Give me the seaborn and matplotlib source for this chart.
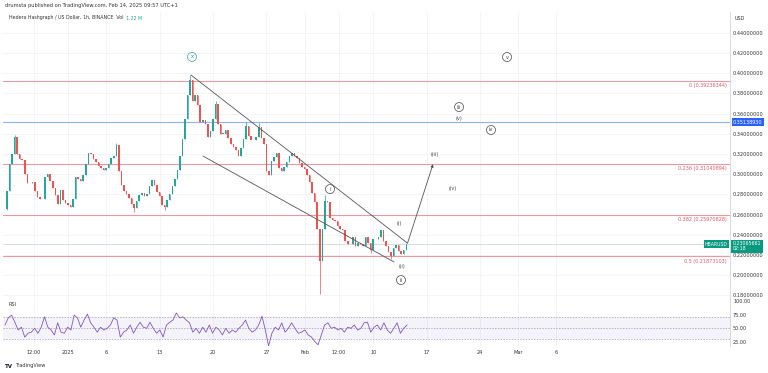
import numpy as np
import pandas as pd
import seaborn as sns
import matplotlib.pyplot as plt

first_day = -8.0
step = 1 / 3
first_open = 0.2652
closes = [
    0.2830, 0.3096, 0.3195, 0.3363, 0.3195, 0.3146, 0.3136, 0.2997, 0.2909, 0.2909,
    0.2919, 0.2830, 0.2770, 0.2751, 0.2751, 0.2968, 0.2997, 0.2928, 0.2859, 0.2790,
    0.2701, 0.2840, 0.2741, 0.2711, 0.2691, 0.2672, 0.2751, 0.2968, 0.2948, 0.2928,
    0.2988, 0.3096, 0.3205, 0.3195, 0.3146, 0.3116, 0.3077, 0.3057, 0.3037, 0.3057,
    0.3096, 0.3156, 0.3176, 0.3284, 0.3027, 0.2889, 0.2830, 0.2800, 0.2760, 0.2701,
    0.2662, 0.2731, 0.2790, 0.2810, 0.2780, 0.2800, 0.2879, 0.2938, 0.2889, 0.2820,
    0.2780, 0.2691, 0.2672, 0.2741, 0.2800, 0.2879, 0.2948, 0.3037, 0.3176, 0.3343,
    0.3541, 0.3788, 0.3936, 0.3728, 0.3788, 0.3689, 0.3511, 0.3531, 0.3501, 0.3363,
    0.3422, 0.3541, 0.3699, 0.3501, 0.3402, 0.3402, 0.3432, 0.3353, 0.3294, 0.3264,
    0.3235, 0.3175, 0.3254, 0.3343, 0.3481, 0.3373, 0.3333, 0.3333, 0.3363, 0.3462,
    0.3353, 0.3294, 0.3027, 0.2988, 0.3126, 0.3165, 0.3205, 0.3057, 0.3027, 0.3067,
    0.3116, 0.3175, 0.3205, 0.3175, 0.3156, 0.3106, 0.3067, 0.3047, 0.2988, 0.2919,
    0.2810, 0.2721, 0.2454, 0.2138, 0.2454, 0.2731, 0.2721, 0.2563, 0.2543, 0.2533,
    0.2484, 0.2454, 0.2444, 0.2336, 0.2306, 0.2306, 0.2375, 0.2286, 0.2316, 0.2306,
    0.2286, 0.2375, 0.2316, 0.2247, 0.2356, 0.2356, 0.2375, 0.2444, 0.2336, 0.2286,
    0.2227, 0.2188, 0.2267, 0.2296, 0.2237, 0.2207, 0.2247, 0.2307,
]
wick_highs = {3: 0.3385, 43: 0.3310, 72: 0.3985, 82: 0.3720, 94: 0.3520, 99: 0.3510, 125: 0.2790}
wick_lows = {0: 0.2640, 50: 0.2620, 62: 0.2640, 123: 0.1812, 143: 0.2220, 151: 0.2160}

rsi_start, rsi_end = -8.26, 44.43
rsi = [
    56, 69, 74, 61, 47, 52, 34, 41, 43, 50, 41, 52, 71, 52, 47, 38, 60, 43, 41, 52,
    47, 74, 69, 52, 65, 76, 60, 52, 43, 52, 47, 50, 56, 69, 65, 34, 43, 47, 56, 41,
    52, 61, 52, 50, 61, 50, 41, 47, 34, 56, 61, 65, 78, 69, 71, 65, 60, 43, 50, 41,
    52, 43, 56, 41, 52, 47, 38, 50, 41, 47, 43, 50, 56, 65, 50, 43, 47, 56, 72, 47,
    18, 41, 52, 47, 60, 43, 50, 60, 50, 41, 43, 47, 38, 34, 26, 20, 38, 56, 60, 50,
    52, 47, 50, 43, 52, 50, 56, 47, 50, 60, 61, 43, 52, 56, 47, 60, 47, 41, 50, 60,
    41, 50, 56,
]

tick_days = [-4.5, 0, 5, 12, 19, 26, 31, 35.5, 40, 47, 54, 59, 64]
tick_labels = ['12:00', '2025', '6', '13', '20', '27', 'Feb', '12:00', '10', '17', '24', 'Mar', '6']
price_ticks = [0.18, 0.20, 0.22, 0.24, 0.26, 0.28, 0.30, 0.32, 0.34, 0.36, 0.38, 0.40, 0.42, 0.44]

fib_names = ['0', '0.236', '0.382', '0.5']
fib_levels = [0.39236344, 0.31040894, 0.25970828, 0.21873103]
blue_level = 0.35138930
last_price = 0.23065661

# elliott wave drawing (day, price)
upper_line = [(16.12, 0.3981), (44.5, 0.2316)]
lower_line = [(17.69, 0.3179), (42.73, 0.2130)]
arrow_line = [(44.5, 0.2316), (47.84, 0.3098)]
wave_text = ['x', 'i', 'ii', '(ii)', '(i)', '(iii)', '(iv)', '(v)', 'iii', 'iv', 'v']
wave_day = [16.25, 34.34, 43.64, 43.77, 43.38, 48.1, 50.46, 51.25, 51.25, 55.44, 57.54]
wave_price = [0.416, 0.2852, 0.1951, 0.2090, 0.2506, 0.3199, 0.2862, 0.3555, 0.3664, 0.3437, 0.4159]
wave_circled = [True, True, True, False, False, False, False, False, True, True, True]

up_col, dn_col = '#26a69a', '#ef5350'
sns.set_theme(style='white')
plt.rcParams['font.family'] = ['DejaVu Sans']

fig = plt.figure(figsize=(7.68, 3.73), dpi=100)
W, H = 768, 373
xlim = ((3 - 68) / 7.63, (730 - 68) / 7.63)
ax = fig.add_axes([3 / W, 1 - 300 / H, 727 / W, 288 / H])
rx = fig.add_axes([3 / W, 1 - 346 / H, 727 / W, 46 / H])

# candles
opens = [first_open] + closes[:-1]
df = pd.DataFrame({'day': first_day + step * np.arange(len(closes)), 'open': opens, 'close': closes})
df['high'] = df[['open', 'close']].max(axis=1)
df['low'] = df[['open', 'close']].min(axis=1)
for k, v in wick_highs.items():
    df.loc[k, 'high'] = v
for k, v in wick_lows.items():
    df.loc[k, 'low'] = v
cols = np.where(df['close'] >= df['open'], up_col, dn_col)
body = (df['close'] - df['open']).abs().clip(lower=0.0006)
ax.vlines(df['day'], df['low'], df['high'], colors=cols, lw=0.5, zorder=3)
ax.bar(df['day'], body, bottom=df[['open', 'close']].min(axis=1), width=step * 0.6,
       color=cols, linewidth=0, zorder=3)

ax.set_xlim(*xlim)
ax.set_ylim(0.17535, 0.4605)
for d in tick_days:
    ax.axvline(d, color='#f2f3f6', lw=0.6, zorder=0)
    rx.axvline(d, color='#f2f3f6', lw=0.6, zorder=0)
for p in price_ticks:
    ax.axhline(p, color='#f2f3f6', lw=0.6, zorder=0)

# horizontal levels
for name, lv in zip(fib_names, fib_levels):
    ax.axhline(lv, color='#e79aa3', lw=0.8, zorder=2)
    ax.text(0.996, lv - 0.0025, f'{name} ({lv:.8f})', transform=ax.get_yaxis_transform(),
            ha='right', va='top', fontsize=3.5, color='#d9596a')
ax.axhline(blue_level, color='#8fb3e3', lw=0.8, zorder=2)
ax.axhline(last_price, color='#cfd8dc', lw=0.6, zorder=2)

# wave drawing
for seg in (upper_line, lower_line):
    ax.plot([seg[0][0], seg[1][0]], [seg[0][1], seg[1][1]], color='#555555', lw=0.6, zorder=4)
ax.annotate('', xy=arrow_line[1], xytext=arrow_line[0],
            arrowprops=dict(arrowstyle='-|>', color='#555555', lw=0.6, mutation_scale=4, shrinkA=0, shrinkB=0))
for t, d, p, c in zip(wave_text, wave_day, wave_price, wave_circled):
    col = up_col if t == 'x' else '#444444'
    bb = dict(boxstyle='circle,pad=0.4', fc='white', ec=col, lw=0.5) if c else None
    ax.text(d, p, t, ha='center', va='center', fontsize=3.6, color=col, bbox=bb, zorder=5)

# right price scale
ax.yaxis.tick_right()
ax.set_yticks(price_ticks)
ax.set_yticklabels([f'{p:.8f}' for p in price_ticks])
ax.tick_params(axis='y', length=0, pad=2.2, labelsize=3.6, labelcolor='#333333')
ax.tick_params(axis='x', length=0, labelbottom=False)
for s in ['top', 'left']:
    ax.spines[s].set_visible(False)
for s in ['right', 'bottom']:
    ax.spines[s].set_color('#d1d4dc')
    ax.spines[s].set_linewidth(0.6)

tr = ax.get_yaxis_transform()
ax.text(1.004, blue_level, f'{blue_level:.8f}', transform=tr, ha='left', va='center', fontsize=3.5,
        color='white', bbox=dict(boxstyle='square,pad=0.25', fc='#2962ff', ec='none'), zorder=6, clip_on=False)
ax.text(0.997, last_price, 'HBARUSD', transform=tr, ha='right', va='center', fontsize=3.3,
        color='white', bbox=dict(boxstyle='square,pad=0.25', fc='#089981', ec='none'), zorder=6)
ax.text(1.004, last_price - 0.002, f'{last_price:.8f}\n02:18', transform=tr, ha='left', va='center',
        fontsize=3.4, color='white', linespacing=1.1,
        bbox=dict(boxstyle='square,pad=0.3', fc='#089981', ec='none'), zorder=6, clip_on=False)
fig.text(735 / W, 1 - 18 / H, 'USD', fontsize=3.5, color='#333333', va='center')

# RSI pane
rx.axhspan(30, 70, color='#7e57c2', alpha=0.07, lw=0)
for lv in (70, 50, 30):
    rx.axhline(lv, color='#9598a1', lw=0.5, ls=(0, (2, 2)))
sns.lineplot(x=np.linspace(rsi_start, rsi_end, len(rsi)), y=rsi, ax=rx, color='#7e57c2', lw=0.6)
rx.set_xlim(*xlim)
rx.set_ylim(17.8, 101.5)
rx.yaxis.tick_right()
rx.set_yticks([25, 50, 75, 100])
rx.set_yticklabels(['25.00', '50.00', '75.00', '100.00'])
rx.set_xticks(tick_days)
rx.set_xticklabels(tick_labels)
rx.tick_params(axis='y', length=0, pad=2.2, labelsize=3.5, labelcolor='#333333')
rx.tick_params(axis='x', length=0, pad=3, labelsize=3.6, labelcolor='#333333')
for s in ['top', 'left', 'bottom']:
    rx.spines[s].set_visible(False)
rx.spines['right'].set_color('#d1d4dc')
rx.spines['right'].set_linewidth(0.6)
rx.set_xlabel('')
rx.set_ylabel('')
rx.text(0.007, 0.86, 'RSI', transform=rx.transAxes, fontsize=3.5, color='#333333')

# header and footer
fig.text(5 / W, 1 - 6 / H, 'drumsta published on TradingView.com, Feb 14, 2025 09:57 UTC+1',
         fontsize=3.7, color='#333333', va='center')
hdr = fig.text(9 / W, 1 - 18 / H, 'Hedera Hashgraph / US Dollar, 1h, BINANCE  Vol', fontsize=3.4,
               color='#333333', va='center')
bb = hdr.get_window_extent(renderer=fig.canvas.get_renderer())
fig.text((bb.x1 + 2) / W, 1 - 18 / H, '1.22 M', fontsize=3.4, color=up_col, va='center')
fig.text(5 / W, 1 - 366 / H, 'TV', fontsize=4, weight='bold', color='#131722', va='center')
fig.text(15 / W, 1 - 366 / H, 'TradingView', fontsize=3.6, color='#333333', va='center')

fig.savefig('out.png', dpi=100)
